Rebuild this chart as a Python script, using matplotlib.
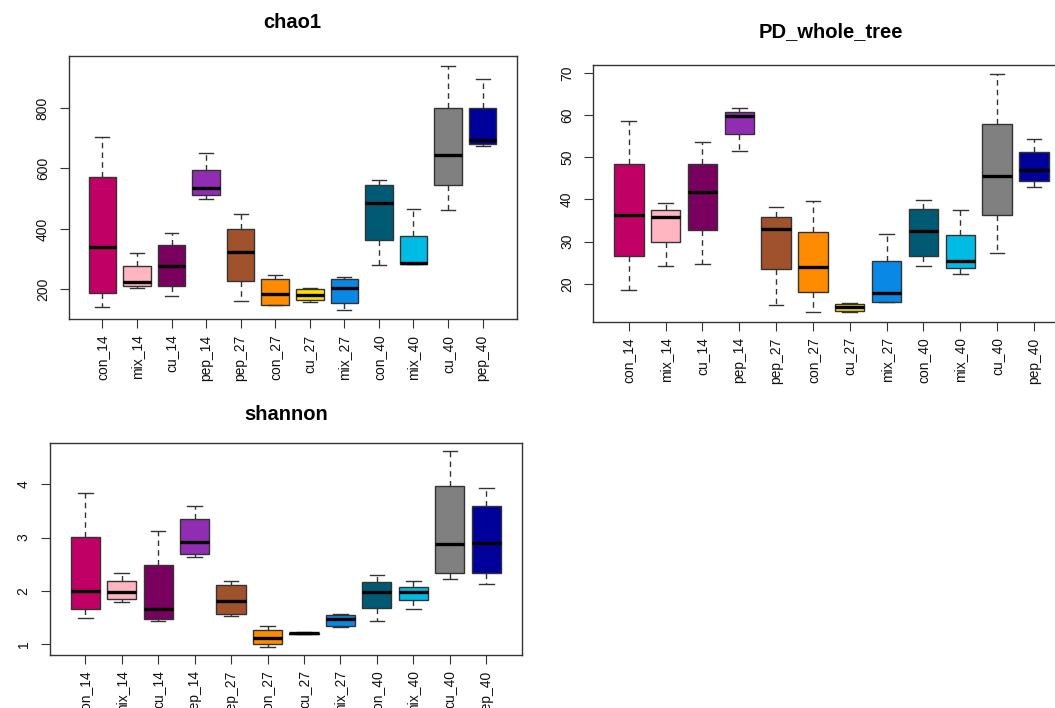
import matplotlib
matplotlib.use('Agg')
import matplotlib.pyplot as plt

plt.rcParams['font.family'] = ['Liberation Sans', 'DejaVu Sans']

# groups and box colours
groups = ['con_14', 'mix_14', 'cu_14', 'pep_14', 'pep_27', 'con_27',
          'cu_27', 'mix_27', 'con_40', 'mix_40', 'cu_40', 'pep_40']
colors = ['#C10066', '#FFB6C1', '#7A005F', '#912DB3', '#A0522D', '#FF8C00',
          '#FFE100', '#0A88E6', '#005A73', '#00BBE4', '#808080', '#00009B']

# chao1 five-number summaries
chao1_lo = [140, 205, 177, 498, 161, 148, 157, 133, 280, 284, 464, 676]
chao1_q1 = [188, 211, 212, 512, 228, 148, 165, 156, 363, 284, 546, 681]
chao1_med = [340, 225, 278, 535, 324, 185, 182, 205, 487, 288, 645, 695]
chao1_q3 = [572, 278, 348, 596, 401, 235, 200, 235, 545, 378, 801, 799]
chao1_hi = [703, 319, 388, 650, 450, 249, 203, 242, 562, 467, 940, 895]
chao1_ticks = [200, 400, 600, 800]

# PD_whole_tree
pd_lo = [18.6, 24.2, 24.8, 51.5, 15.0, 13.3, 13.2, 15.7, 24.3, 22.3, 27.3, 43.0]
pd_q1 = [26.5, 30.0, 32.8, 55.6, 23.5, 18.1, 13.6, 15.8, 26.7, 23.7, 36.2, 44.4]
pd_med = [36.3, 35.9, 41.8, 59.7, 32.9, 24.0, 14.5, 17.7, 32.5, 25.4, 45.6, 47.0]
pd_q3 = [48.4, 37.6, 48.3, 60.8, 35.8, 32.3, 15.2, 25.4, 37.7, 31.5, 57.8, 51.2]
pd_hi = [58.7, 39.2, 53.6, 61.6, 38.1, 39.6, 15.5, 31.8, 39.9, 37.4, 69.7, 54.4]
pd_ticks = [20, 30, 40, 50, 60, 70]

# shannon
sh_lo = [1.48, 1.78, 1.44, 2.63, 1.53, 0.94, 1.18, 1.31, 1.44, 1.66, 2.23, 2.13]
sh_q1 = [1.65, 1.85, 1.46, 2.69, 1.57, 1.00, 1.19, 1.33, 1.68, 1.82, 2.34, 2.34]
sh_med = [2.00, 1.98, 1.66, 2.92, 1.81, 1.12, 1.20, 1.46, 1.98, 1.98, 2.88, 2.89]
sh_q3 = [3.01, 2.18, 2.48, 3.35, 2.11, 1.26, 1.21, 1.55, 2.16, 2.08, 3.96, 3.59]
sh_hi = [3.83, 2.33, 3.12, 3.59, 2.19, 1.34, 1.225, 1.56, 2.29, 2.18, 4.63, 3.94]
sh_ticks = [1, 2, 3, 4]

W, H = 1055, 708
fig = plt.figure(figsize=(W / 100, H / 100), dpi=100)


def px_axes(l, t, r, b):
    return fig.add_axes([l / W, 1 - b / H, (r - l) / W, (b - t) / H])


def panel(ax, title, lo, q1, med, q3, hi, yticks, title_off):
    stats = [dict(label=g, whislo=a, q1=b, med=c, q3=d, whishi=e)
             for g, a, b, c, d, e in zip(groups, lo, q1, med, q3, hi)]
    bp = ax.bxp(stats, positions=range(1, len(groups) + 1), widths=0.8,
                capwidths=0.4, patch_artist=True, showfliers=False,
                boxprops=dict(edgecolor='#333333', linewidth=1.0),
                medianprops=dict(color='black', linewidth=2.4, solid_capstyle='butt'),
                whiskerprops=dict(color='#333333', linewidth=1.0, linestyle=(0, (4, 3))),
                capprops=dict(color='#333333', linewidth=1.0))
    for patch, c in zip(bp['boxes'], colors):
        patch.set_facecolor(c)
    # R style limits: data range +/- 4%
    ymin, ymax = min(lo), max(hi)
    pad = 0.04 * (ymax - ymin)
    ax.set_ylim(ymin - pad, ymax + pad)
    ax.set_xlim(0.02, len(groups) + 0.98)
    ax.set_yticks(yticks)
    ax.tick_params(direction='out', length=6.5, width=0.8, color='#333333',
                   labelsize=10, labelcolor='#111111')
    ax.tick_params(axis='x', labelrotation=90, pad=4.5)
    ax.tick_params(axis='y', labelrotation=90, pad=7)
    for lab in ax.get_yticklabels():
        lab.set_va('center')
    for s in ax.spines.values():
        s.set_color('#333333')
        s.set_linewidth(1.0)
    ax.annotate(title, xy=(0.5, 1), xycoords='axes fraction',
                xytext=(0, title_off * 0.72), textcoords='offset points',
                ha='center', va='center', fontsize=14.5, fontweight='bold')


ax1 = px_axes(68.5, 56, 516.5, 319.3)
panel(ax1, 'chao1', chao1_lo, chao1_q1, chao1_med, chao1_q3, chao1_hi, chao1_ticks, 34)

ax2 = px_axes(592.7, 64.7, 1070, 322)
panel(ax2, 'PD_whole_tree', pd_lo, pd_q1, pd_med, pd_q3, pd_hi, pd_ticks, 33)

ax3 = px_axes(49.5, 443, 522, 655)
panel(ax3, 'shannon', sh_lo, sh_q1, sh_med, sh_q3, sh_hi, sh_ticks, 28)

plt.savefig('out.png', dpi=100)
